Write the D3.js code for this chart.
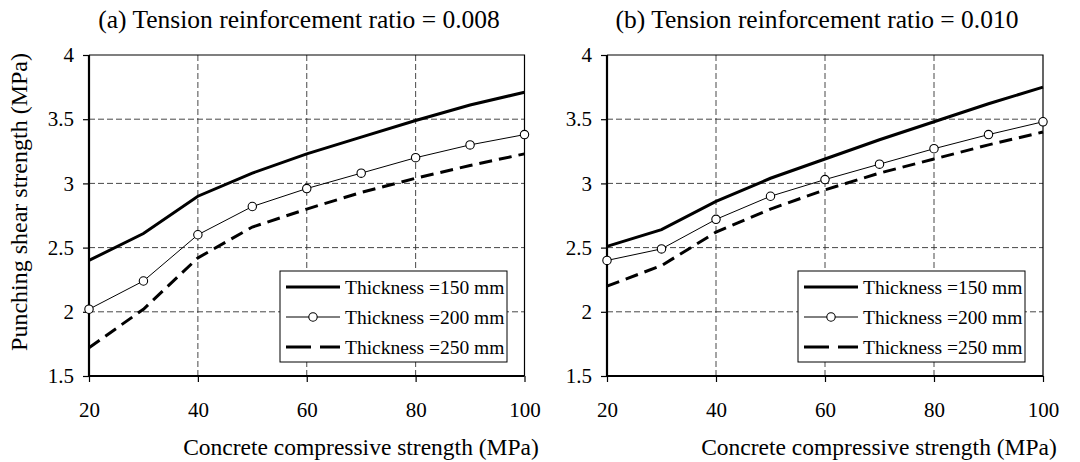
<!DOCTYPE html>
<html><head><meta charset="utf-8">
<script src="https://cdn.jsdelivr.net/npm/d3@7"></script>
<style>body{margin:0;background:#fff}svg{display:block}</style>
</head><body><svg id="c" width="1080" height="462"></svg>
<script>
const strengths = [20,30,40,50,60,70,80,90,100];
const seriesNames = ["Thickness =150 mm","Thickness =200 mm","Thickness =250 mm"];
const panelTitles = ["(a) Tension reinforcement ratio = 0.008","(b) Tension reinforcement ratio = 0.010"];
const a150 = [2.40,2.61,2.90,3.08,3.23,3.36,3.49,3.61,3.71];
const a200 = [2.02,2.24,2.60,2.82,2.96,3.08,3.20,3.30,3.38];
const a250 = [1.72,2.02,2.42,2.66,2.80,2.93,3.04,3.14,3.23];
const b150 = [2.51,2.64,2.86,3.04,3.19,3.34,3.48,3.62,3.75];
const b200 = [2.40,2.49,2.72,2.90,3.03,3.15,3.27,3.38,3.48];
const b250 = [2.20,2.36,2.62,2.80,2.95,3.08,3.19,3.30,3.40];
const xTicks = [20,40,60,80,100];
const yTicks = [1.5,2,2.5,3,3.5,4];

(function(){
const FF = "Liberation Serif";
const svg = d3.select("#c");
const panels = [
  {left:89,right:524.5,data:[a150,a200,a250],title:panelTitles[0],titleX:299,labelX:361,legX:280},
  {left:607,right:1043,data:[b150,b200,b250],title:panelTitles[1],titleX:817,labelX:879,legX:798}
];
const pTop=55,pBot=376;
const styles=[
  {w:3,dash:null,marker:false},
  {w:1,dash:null,marker:true},
  {w:3,dash:"13,7",marker:false}
];

panels.forEach(p=>{
  const x=d3.scaleLinear().domain([20,100]).range([p.left,p.right]);
  const y=d3.scaleLinear().domain([1.5,4]).range([pBot,pTop]);
  const g=svg.append("g");
  g.selectAll(".vg").data(xTicks.slice(1,-1)).join("line")
    .attr("x1",d=>x(d)).attr("x2",d=>x(d)).attr("y1",pTop).attr("y2",pBot)
    .attr("stroke","#333").attr("stroke-width",0.9).attr("stroke-dasharray","6,3");
  g.selectAll(".hg").data(yTicks.slice(1,-1)).join("line")
    .attr("y1",d=>y(d)).attr("y2",d=>y(d)).attr("x1",p.left).attr("x2",p.right)
    .attr("stroke","#333").attr("stroke-width",0.9).attr("stroke-dasharray","6,3");
  g.append("path").attr("d",`M${p.left},${pTop}H${p.right}V${pBot}`).attr("fill","none").attr("stroke","#000").attr("stroke-width",1.2);
  const xa=g.append("g").attr("transform",`translate(0,${pBot})`)
    .call(d3.axisBottom(x).tickValues(xTicks).tickSize(6).tickPadding(20));
  const ya=g.append("g").attr("transform",`translate(${p.left},0)`)
    .call(d3.axisLeft(y).tickValues(yTicks).tickSize(6).tickPadding(9).tickFormat(d3.format("")));
  [xa,ya].forEach(a=>{
    a.attr("font-family",FF).attr("font-size",21);
    a.select(".domain").attr("stroke","#000").attr("stroke-width",2.2);
    a.selectAll(".tick line").attr("stroke","#000").attr("stroke-width",1.2);
    a.selectAll("text").attr("fill","#000");
  });
  ya.select(".domain").attr("d",`M0,${pBot+1}V${pTop}`);
  xa.select(".domain").attr("d",`M${p.left-1},0H${p.right}`);
  const line=d3.line().x((d,i)=>x(strengths[i])).y(d=>y(d));
  p.data.forEach((vals,k)=>{
    const s=styles[k];
    g.append("path").datum(vals).attr("d",line).attr("fill","none").attr("stroke","#000")
      .attr("stroke-width",s.w).attr("stroke-dasharray",s.dash);
    if(s.marker){
      g.selectAll(".m"+k).data(vals).join("circle").attr("cx",(d,i)=>x(strengths[i])).attr("cy",d=>y(d))
        .attr("r",4.2).attr("fill","#fff").attr("stroke","#000").attr("stroke-width",1.1);
    }
  });
  svg.append("text").attr("x",p.titleX).attr("y",28).attr("text-anchor","middle").attr("font-family",FF).attr("font-size",25.5).text(p.title);
  svg.append("text").attr("x",p.labelX).attr("y",455).attr("text-anchor","middle").attr("font-family",FF).attr("font-size",23.5).text("Concrete compressive strength (MPa)");
  const lg=svg.append("g").attr("transform",`translate(${p.legX},271)`);
  lg.append("rect").attr("width",227).attr("height",91).attr("fill","#fff").attr("stroke","#000").attr("stroke-width",1);
  seriesNames.forEach((n,k)=>{
    const yy=16+k*30;
    const s=styles[k];
    lg.append("line").attr("x1",6).attr("x2",60).attr("y1",yy).attr("y2",yy).attr("stroke","#000")
      .attr("stroke-width",s.w).attr("stroke-dasharray",k===2?"25,9":null);
    if(s.marker) lg.append("circle").attr("cx",33).attr("cy",yy).attr("r",4.2).attr("fill","#fff").attr("stroke","#000").attr("stroke-width",1.1);
    lg.append("text").attr("x",65).attr("y",yy+7).attr("font-family",FF).attr("font-size",19.5).text(n);
  });
});
svg.append("text").attr("transform","translate(27,202) rotate(-90)").attr("text-anchor","middle").attr("font-family",FF).attr("font-size",24).text("Punching shear strength (MPa)");
})();
</script></body></html>
